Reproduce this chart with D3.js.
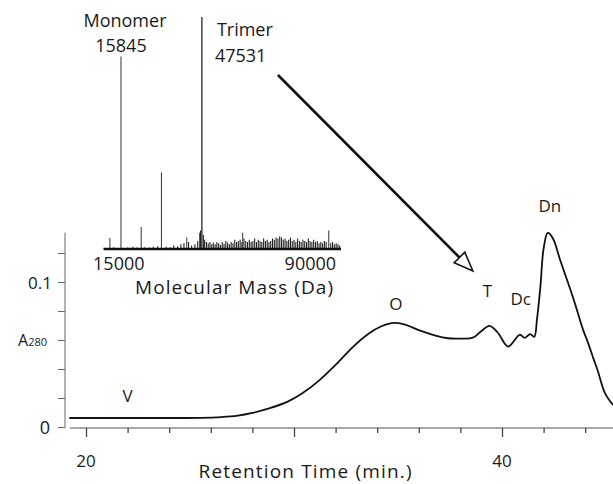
<!DOCTYPE html>
<html>
<head>
<meta charset="utf-8">
<script src="https://cdn.jsdelivr.net/npm/d3@7"></script>
<style>
  body { margin: 0; background: #fff; }
  text { font-family: "Open Sans", sans-serif; fill: #1a1a1a; }
</style>
</head>
<body>
<svg id="chart"></svg>
<script>
// chromatogram (A280 vs retention time)
const timeMin = [19.2, 22, 24, 25.5, 26.5, 27.3, 28.0, 28.8, 29.7, 30.4, 31.2, 32.1, 32.8, 33.6, 34.2, 34.7,
  35.3, 36.0, 36.8, 37.4, 38.0, 38.6, 39.0, 39.4, 39.8, 40.3, 40.85, 41.1, 41.35, 41.55, 41.68, 41.85, 42.0,
  42.2, 42.45, 42.8, 43.4, 43.9, 44.15, 44.4, 44.6, 44.95, 45.35];
const a280 = [0.0062, 0.0062, 0.0062, 0.0063, 0.0068, 0.0078, 0.0097, 0.0128, 0.0175, 0.0232, 0.0320, 0.0443,
  0.0548, 0.0645, 0.0695, 0.0717, 0.0708, 0.0668, 0.0630, 0.0612, 0.0610, 0.0616, 0.0660, 0.0697, 0.0650,
  0.0555, 0.0636, 0.0615, 0.0640, 0.0622, 0.0740, 0.0975, 0.1230, 0.1338, 0.1300, 0.1150, 0.0900, 0.0670,
  0.0575, 0.0470, 0.0390, 0.0234, 0.0150];

const peakLabels = ["V", "O", "T", "Dc", "Dn"];
const peakLabelTime = [22.0, 34.9, 39.3, 40.9, 42.3];
const peakLabelA280 = [0.017, 0.081, 0.090, 0.084, 0.148];

const yTicks = [0, 0.02, 0.04, 0.06, 0.08, 0.1, 0.12];
const xTicks = [20, 22, 24, 26, 28, 30, 32, 34, 36, 38, 40, 42, 44];
const xMajor = [20, 30, 40];
const xLabels = [20, 40];

// inset mass spectrum (intensity relative to trimer)
const specMass = [11500, 15845, 23765, 31690, 41600, 47531, 63500, 97200];
const specInt = [0.047, 0.83, 0.095, 0.33, 0.05, 1.0, 0.07, 0.08];
const specLabels = [["Monomer", "15845"], ["Trimer", "47531"]];

const noiseMass = [13000, 18500, 20500, 22000, 25000, 27000, 28500, 30200, 33500, 35000, 36500, 38000, 39300,
  40500, 42300, 43500, 44800, 45900, 46700, 47000, 48100, 48600, 49300, 50000, 50700, 51400, 52000, 52700,
  53400, 54100, 54800, 55500, 56200, 56900, 57600, 58300, 59000, 59700, 60400, 61100, 61800, 62500, 63200,
  64000, 64700, 65400, 66100, 66800, 67500, 68200, 68900, 69600, 70300, 71000, 71700, 72400, 73100, 73800,
  74500, 75200, 75900, 76600, 77300, 78000, 78700, 79400, 80100, 80800, 81500, 82200, 82900, 83600, 84300,
  85000, 85700, 86400, 87100, 87800, 88500, 89200, 89900, 90600, 91300, 92000, 92700, 93400, 94100, 94800,
  95500, 96200, 98000, 98700, 99400, 100100, 100800, 101500];
const noiseInt = [0.008, 0.006, 0.01, 0.006, 0.008, 0.006, 0.01, 0.012, 0.01, 0.008, 0.015, 0.012, 0.02,
  0.025, 0.03, 0.015, 0.02, 0.035, 0.07, 0.08, 0.06, 0.04, 0.03, 0.025, 0.03, 0.02, 0.028, 0.02,
  0.03, 0.025, 0.018, 0.03, 0.022, 0.035, 0.028, 0.02, 0.03, 0.025, 0.04, 0.03, 0.035, 0.04, 0.03,
  0.045, 0.035, 0.03, 0.04, 0.03, 0.035, 0.045, 0.03, 0.04, 0.035, 0.03, 0.045, 0.035, 0.04, 0.03,
  0.035, 0.045, 0.04, 0.05, 0.045, 0.055, 0.05, 0.04, 0.045, 0.035, 0.04, 0.05, 0.035, 0.04, 0.03,
  0.045, 0.035, 0.03, 0.04, 0.035, 0.03, 0.045, 0.035, 0.03, 0.04, 0.03, 0.035, 0.025, 0.03, 0.025,
  0.035, 0.03, 0.025, 0.03, 0.02, 0.025, 0.02, 0.015];
const massTicks = [15000, 90000];

// arrow from the inset to the T peak
const arrowFromMass = 77300, arrowFromInt = 0.75;
const arrowToTime = 38.6, arrowToA280 = 0.1076;

const width = 613, height = 484;
const svg = d3.select("#chart").attr("width", width).attr("height", height);

const x = d3.scaleLinear().domain([20, 40]).range([86, 502]);
const y = d3.scaleLinear().domain([0, 0.1]).range([427, 282]);

// y axis
svg.append("line")
  .attr("x1", 65).attr("x2", 65)
  .attr("y1", y(0) + 1).attr("y2", y(0.134))
  .attr("stroke", "#666").attr("stroke-width", 1);
const yAxis = svg.append("g")
  .attr("transform", "translate(65,0)")
  .call(d3.axisLeft(y).tickValues(yTicks).tickSize(7).tickFormat(() => ""));
yAxis.select(".domain").remove();
yAxis.selectAll(".tick line").attr("stroke", "#666");

svg.append("text").attr("x", 50).attr("y", y(0) + 7).attr("text-anchor", "end")
  .style("font-size", "18px").text("0");
svg.append("text").attr("x", 52).attr("y", y(0.1) + 7).attr("text-anchor", "end")
  .style("font-size", "17px").text("0.1");
const aLab = svg.append("text").attr("x", 47).attr("y", y(0.06) + 6).attr("text-anchor", "end")
  .style("font-size", "16px");
aLab.append("tspan").text("A");
aLab.append("tspan").style("font-size", "11px").text("280");

// x axis
svg.append("line")
  .attr("x1", 70).attr("x2", width)
  .attr("y1", 428).attr("y2", 428)
  .attr("stroke", "#555").attr("stroke-width", 1.2);
const xAxis = svg.append("g")
  .attr("transform", "translate(0,428)")
  .call(d3.axisBottom(x).tickValues(xTicks).tickSize(5).tickFormat(() => ""));
xAxis.select(".domain").remove();
xAxis.selectAll(".tick line")
  .attr("stroke", "#444").attr("stroke-width", 1.3)
  .attr("y2", d => xMajor.includes(d) ? 9 : 5);

svg.selectAll(".xlab").data(xLabels).enter().append("text")
  .attr("class", "xlab")
  .attr("x", d => x(d)).attr("y", 467)
  .attr("text-anchor", "middle").style("font-size", "17px")
  .text(d => d);

svg.append("text").attr("x", 305).attr("y", 478).attr("text-anchor", "middle")
  .style("font-size", "19px").attr("textLength", 213).attr("lengthAdjust", "spacing")
  .text("Retention Time (min.)");

// chromatogram trace
const trace = timeMin.map((t, i) => [t, a280[i]]);
svg.append("path")
  .datum(trace)
  .attr("fill", "none").attr("stroke", "#111").attr("stroke-width", 1.8)
  .attr("d", d3.line().x(d => x(d[0])).y(d => y(d[1])).curve(d3.curveCatmullRom.alpha(0.5)));

svg.selectAll(".plab").data(peakLabels).enter().append("text")
  .attr("class", "plab")
  .attr("x", (d, i) => x(peakLabelTime[i])).attr("y", (d, i) => y(peakLabelA280[i]))
  .attr("text-anchor", "middle").style("font-size", "17px")
  .text(d => d);

// inset spectrum
const xm = d3.scaleLinear().domain([9000, 102000]).range([103.5, 341]);
const ym = d3.scaleLinear().domain([0, 1]).range([249, 17]);

svg.selectAll(".noise").data(noiseMass).enter().append("line")
  .attr("class", "noise")
  .attr("x1", d => xm(d)).attr("x2", d => xm(d))
  .attr("y1", ym(0)).attr("y2", (d, i) => ym(noiseInt[i]))
  .attr("stroke", "#222").attr("stroke-width", 1.1);

svg.selectAll(".peak").data(specMass).enter().append("line")
  .attr("class", "peak")
  .attr("x1", d => xm(d)).attr("x2", d => xm(d))
  .attr("y1", ym(0)).attr("y2", (d, i) => ym(specInt[i]))
  .attr("stroke", "#444").attr("stroke-width", (d, i) => specInt[i] > 0.9 ? 1.5 : 1.1);

svg.append("line")
  .attr("x1", xm(9000)).attr("x2", xm(102000))
  .attr("y1", ym(0)).attr("y2", ym(0))
  .attr("stroke", "#111").attr("stroke-width", 2.4);

svg.selectAll(".mlab").data(massTicks).enter().append("text")
  .attr("class", "mlab")
  .attr("x", d => xm(d)).attr("y", 270)
  .attr("text-anchor", "middle").style("font-size", "18px")
  .text(d => d);

svg.append("text").attr("x", 234).attr("y", 294).attr("text-anchor", "middle")
  .style("font-size", "19px").attr("textLength", 198).attr("lengthAdjust", "spacing")
  .text("Molecular Mass (Da)");

// Monomer / Trimer annotations
svg.append("text").attr("x", xm(15845) + 4).attr("y", 27).attr("text-anchor", "middle")
  .style("font-size", "18px").text(specLabels[0][0]);
svg.append("text").attr("x", xm(15845)).attr("y", 52).attr("text-anchor", "middle")
  .style("font-size", "18px").text(specLabels[0][1]);
svg.append("text").attr("x", xm(47531) + 15).attr("y", 36)
  .style("font-size", "18px").text(specLabels[1][0]);
svg.append("text").attr("x", xm(47531) + 13).attr("y", 62)
  .style("font-size", "18px").text(specLabels[1][1]);

// arrow
const ax0 = xm(arrowFromMass), ay0 = ym(arrowFromInt);
const ax1 = x(arrowToTime), ay1 = y(arrowToA280);
const ang = Math.atan2(ay1 - ay0, ax1 - ax0);
const headLen = 19, headHalf = 7.5;
const bx = ax1 - headLen * Math.cos(ang), by = ay1 - headLen * Math.sin(ang);
svg.append("line")
  .attr("x1", ax0).attr("y1", ay0).attr("x2", bx).attr("y2", by)
  .attr("stroke", "#111").attr("stroke-width", 2.6);
svg.append("path")
  .attr("d", d3.line()([
    [ax1, ay1],
    [bx + headHalf * Math.sin(ang), by - headHalf * Math.cos(ang)],
    [bx - headHalf * Math.sin(ang), by + headHalf * Math.cos(ang)]
  ]) + "Z")
  .attr("fill", "#fff").attr("stroke", "#111").attr("stroke-width", 1.6);
</script>
</body>
</html>
